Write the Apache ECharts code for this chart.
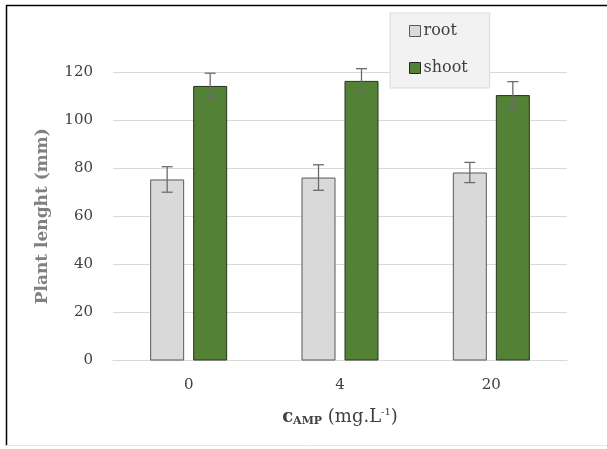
<!DOCTYPE html>
<html><head><meta charset="utf-8">
<script src="https://cdn.jsdelivr.net/npm/echarts@6/dist/echarts.min.js"></script>
<style>html,body{margin:0;padding:0;background:#fff}#c{width:607px;height:449px}</style>
</head><body><div id="c"></div>
<script>
const categories = ['0', '4', '20'];
const rootValues = [75.3, 76.1, 78.2];
const rootErrors = [5.3, 5.3, 4.2];
const shootValues = [114.2, 116.3, 110.4];
const shootErrors = [5.3, 5.1, 5.6];
const yTicks = [0, 20, 40, 60, 80, 100, 120];

const FONT = '"DejaVu Serif", "Liberation Serif", serif';
const BAR_W = 34, GAP = 9;
const chart = echarts.init(document.getElementById('c'), null, {renderer: 'canvas'});

function errSeries(name, vals, errs, offset) {
  return {
    type: 'custom', name: name + '-err', silent: true, clip: false, z: 5,
    data: vals.map((v, i) => [i, v - errs[i], v + errs[i]]),
    renderItem: function (params, api) {
      const lo = api.coord([api.value(0), api.value(1)]);
      const hi = api.coord([api.value(0), api.value(2)]);
      const x = lo[0] + offset, cw = 5.5;
      const st = {stroke: '#6b6b6b', lineWidth: 1.3};
      return {type: 'group', children: [
        {type: 'line', shape: {x1: x, y1: lo[1], x2: x, y2: hi[1]}, style: st},
        {type: 'line', shape: {x1: x - cw, y1: lo[1], x2: x + cw, y2: lo[1]}, style: st},
        {type: 'line', shape: {x1: x - cw, y1: hi[1], x2: x + cw, y2: hi[1]}, style: st}
      ]};
    }
  };
}

chart.setOption({
  animation: false,
  grid: {left: 113, right: 40, top: 72, bottom: 88.5},
  legend: {
    data: [
      {name: 'root', itemStyle: {color: '#d9d9d9', borderColor: '#595959', borderWidth: 1}},
      {name: 'shoot', itemStyle: {color: '#538135', borderColor: '#1f2f12', borderWidth: 1}}
    ],
    orient: 'vertical', left: 390, top: 13,
    padding: [10, 22, 12, 19], itemGap: 21,
    itemWidth: 11, itemHeight: 11, icon: 'rect',
    backgroundColor: '#f2f2f2', borderColor: '#d9d9d9', borderWidth: 1,
    textStyle: {fontFamily: FONT, fontSize: 16, color: '#404040', padding: [0, 0, 0, -2]}
  },
  xAxis: {
    type: 'category', data: categories,
    axisLine: {lineStyle: {color: '#d9d9d9', width: 1}},
    axisTick: {show: false},
    axisLabel: {fontFamily: FONT, fontSize: 15, color: '#404040', margin: 17},
    name: '{b|c}{s|AMP}{n| (mg.L}{p|-1}{n|)}',
    nameLocation: 'middle', nameGap: 47,
    nameTextStyle: {
      rich: {
        b: {fontFamily: FONT, fontSize: 18, fontWeight: 'bold', color: '#404040'},
        s: {fontFamily: FONT, fontSize: 11, fontWeight: 'bold', color: '#404040', verticalAlign: 'bottom', padding: [8, 0, 0, 0]},
        n: {fontFamily: FONT, fontSize: 18, color: '#404040'},
        p: {fontFamily: FONT, fontSize: 10, color: '#404040', verticalAlign: 'top', padding: [0, 0, 9, 0]}
      }
    }
  },
  yAxis: {
    type: 'value', min: 0, max: 120, interval: 20,
    axisLine: {show: false}, axisTick: {show: false},
    splitLine: {lineStyle: {color: '#d9d9d9', width: 1}},
    axisLabel: {fontFamily: FONT, fontSize: 15, color: '#404040', margin: 20,
      formatter: v => yTicks.includes(v) ? String(v) : ''},
    name: 'Plant lenght (mm)', nameLocation: 'middle', nameGap: 62,
    nameTextStyle: {fontFamily: FONT, fontSize: 17, fontWeight: 'bold', color: '#808080'}
  },
  series: [
    {name: 'root', type: 'bar', data: rootValues, barWidth: BAR_W, barGap: (GAP / BAR_W * 100) + '%',
     itemStyle: {color: '#d9d9d9', borderColor: '#595959', borderWidth: 1}},
    {name: 'shoot', type: 'bar', data: shootValues, barWidth: BAR_W,
     itemStyle: {color: '#538135', borderColor: '#24361a', borderWidth: 1}},
    errSeries('root', rootValues, rootErrors, -(BAR_W + GAP) / 2),
    errSeries('shoot', shootValues, shootErrors, (BAR_W + GAP) / 2)
  ],
  graphic: [
    {type: 'line', shape: {x1: 6, y1: 5.5, x2: 607, y2: 5.5}, style: {stroke: '#000', lineWidth: 1.5}},
    {type: 'line', shape: {x1: 6.5, y1: 5, x2: 6.5, y2: 446}, style: {stroke: '#000', lineWidth: 1.5}},
    {type: 'line', shape: {x1: 6, y1: 445.5, x2: 607, y2: 445.5}, style: {stroke: '#e6e6e6', lineWidth: 1}}
  ]
});
</script></body></html>
